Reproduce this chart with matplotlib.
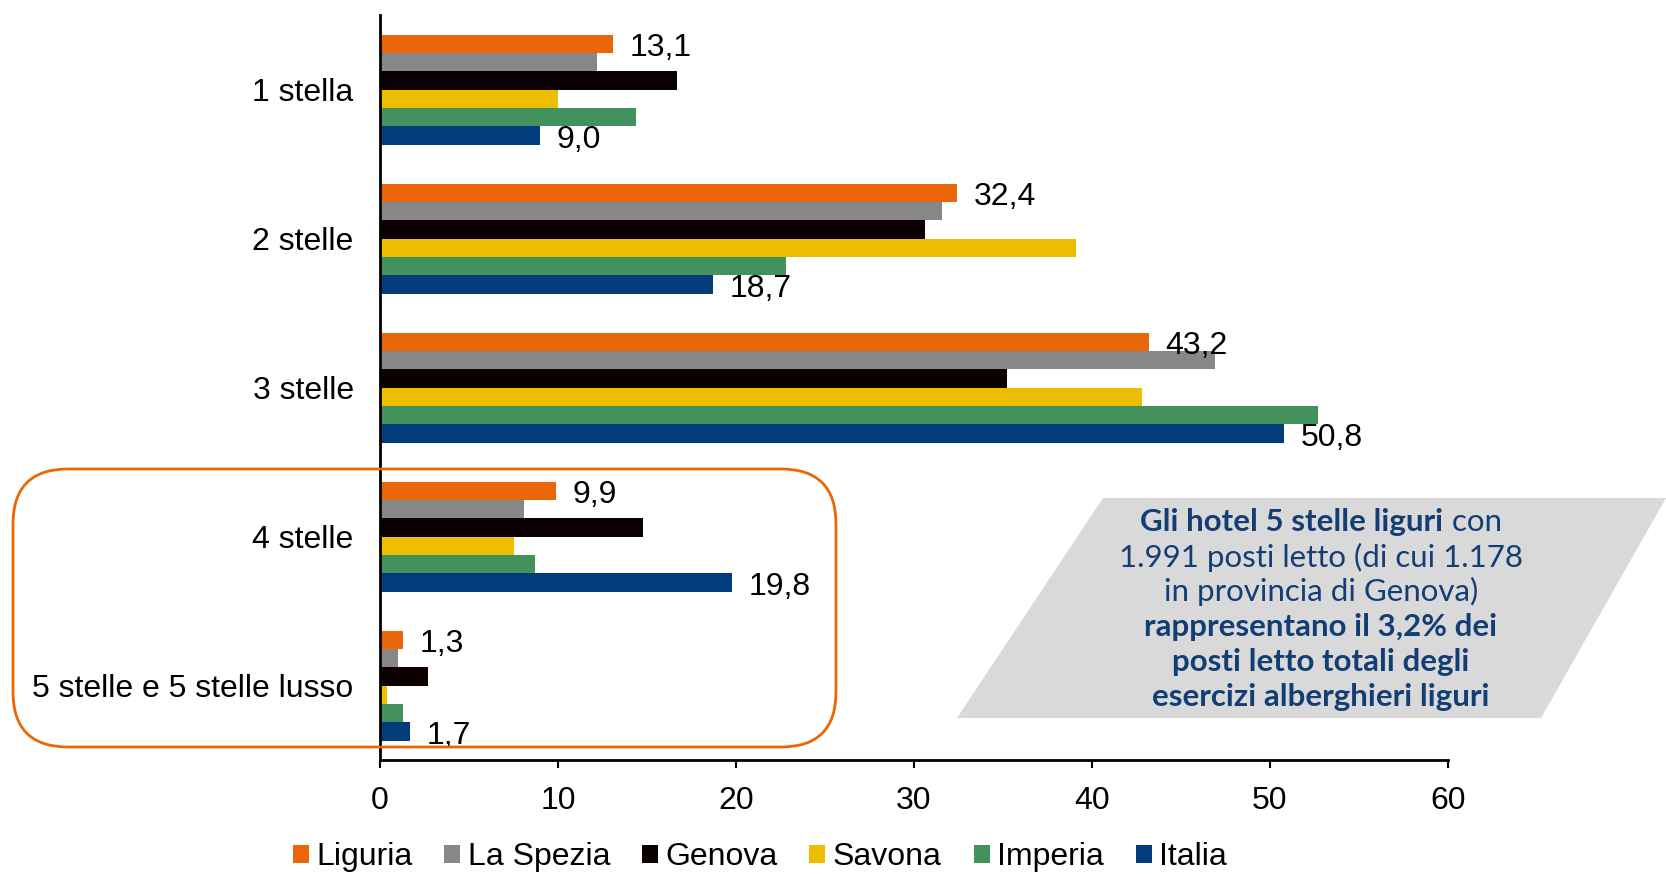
import matplotlib
matplotlib.use("Agg")
import matplotlib.pyplot as plt
import numpy as np
from matplotlib.patches import FancyBboxPatch, Polygon, Patch
from matplotlib.transforms import IdentityTransform

plt.rcParams['font.family'] = ['Liberation Sans', 'DejaVu Sans']

categories = ["1 stella", "2 stelle", "3 stelle", "4 stelle", "5 stelle e 5 stelle lusso"]
series = ["Liguria", "La Spezia", "Genova", "Savona", "Imperia", "Italia"]
colors = ["#EB6608", "#878787", "#0C0000", "#EDBE00", "#43925E", "#033C7A"]

liguria = [13.1, 32.4, 43.2, 9.9, 1.3]
la_spezia = [12.2, 31.6, 46.9, 8.1, 1.0]
genova = [16.7, 30.6, 35.2, 14.8, 2.7]
savona = [10.0, 39.1, 42.8, 7.5, 0.4]
imperia = [14.4, 22.8, 52.7, 8.7, 1.3]
italia = [9.0, 18.7, 50.8, 19.8, 1.7]
values = [liguria, la_spezia, genova, savona, imperia, italia]

fig = plt.figure(figsize=(16.66, 8.74), dpi=100)
ax = fig.add_axes([0.2281, 0.1304, 0.641, 0.8524])

y = np.arange(len(categories))
h = 0.123
for i, (name, vals) in enumerate(zip(series, values)):
    ax.barh(y + (i - 2.5) * h, vals, height=h, color=colors[i], linewidth=0, label=name)

# value labels only for Liguria (top bar) and Italia (bottom bar)
for j in range(len(categories)):
    for i in (0, 5):
        v = values[i][j]
        ax.annotate(f"{v:.1f}".replace(".", ","), xy=(v, y[j] + (i - 2.5) * h),
                    xytext=(12, -3), textcoords="offset points",
                    va="center", ha="left", fontsize=23)

ax.set_xlim(0, 60)
ax.set_ylim(4.5, -0.5)
ax.set_xticks(range(0, 61, 10))
ax.set_yticks(y)
ax.set_yticklabels(categories)
ax.tick_params(axis="y", length=0, pad=19, labelsize=23)
ax.tick_params(axis="x", length=6, width=1.5, direction="out", pad=13, labelsize=23)
for s in ["top", "right"]:
    ax.spines[s].set_visible(False)
ax.spines["left"].set_linewidth(2)
ax.spines["bottom"].set_linewidth(2)

# orange rounded box (pixel coords)
box = FancyBboxPatch((13, 874 - 747), 823, 278,
                     boxstyle="round,pad=0,rounding_size=55",
                     transform=IdentityTransform(), fill=False,
                     edgecolor="#EB6608", linewidth=2, zorder=5)
fig.patches.append(box)

# grey callout
para = Polygon([(1103, 874 - 498), (1666, 874 - 498), (1541, 874 - 718), (957, 874 - 718)],
               closed=True, transform=IdentityTransform(), facecolor="#D9D9D9",
               edgecolor="none", zorder=0)
fig.patches.append(para)

blue = "#123D75"
cx = 1321
fs = 22.5
fam = ["Lato", "DejaVu Sans"]
t1 = fig.text(0, 0, "Gli hotel 5 stelle liguri", transform=IdentityTransform(),
              fontsize=fs, fontweight="bold", color=blue, va="center", ha="left",
              family=fam)
t2 = fig.text(0, 0, " con", transform=IdentityTransform(),
              fontsize=fs, color=blue, va="center", ha="left", family=fam)
lines = [("1.991 posti letto (di cui 1.178", "normal"),
         ("in provincia di Genova)", "normal"),
         ("rappresentano il 3,2% dei", "bold"),
         ("posti letto totali degli", "bold"),
         ("esercizi alberghieri liguri", "bold")]
ys = [522, 557, 591, 627, 662, 697]
for (txt, w), yy in zip(lines, ys[1:]):
    fig.text(cx, 874 - yy, txt, transform=IdentityTransform(), fontsize=fs,
             fontweight=w, color=blue, va="center", ha="center", family=fam)

fig.canvas.draw()
r = fig.canvas.get_renderer()
w1 = t1.get_window_extent(r).width
w2 = t2.get_window_extent(r).width
x0 = cx - (w1 + w2) / 2
t1.set_position((x0, 874 - ys[0]))
t2.set_position((x0 + w1, 874 - ys[0]))

handles = [Patch(facecolor=c, edgecolor="none") for c in colors]
fig.legend(handles, series, loc="center", bbox_to_anchor=(0.456, 0.019), ncol=6,
           frameon=False, fontsize=23, handlelength=0.5, handleheight=0.5,
           handletextpad=0.23, columnspacing=1.0, borderpad=0)

fig.savefig("out.png", dpi=100)
